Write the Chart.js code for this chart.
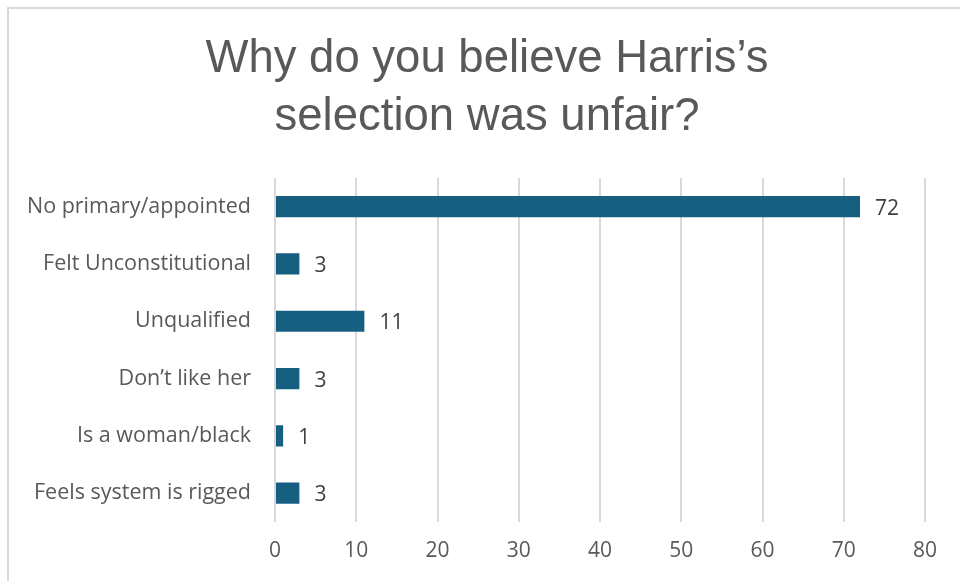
<!DOCTYPE html>
<html>
<head>
<meta charset="utf-8">
<script src="https://cdn.jsdelivr.net/npm/chart.js@4"></script>
<style>
  html, body { margin: 0; padding: 0; background: #fff; }
  #wrap { position: relative; width: 960px; height: 581px; overflow: hidden; }
  #frame { position: absolute; left: 7px; top: 7px; width: 1000px; height: 1000px;
           border-left: 2px solid #d9d9d9; border-top: 2px solid #d9d9d9; }
  canvas { position: absolute; left: 0; top: 0; }
</style>
</head>
<body>
<div id="wrap">
  <div id="frame"></div>
  <canvas id="reasonsChart" width="960" height="581"></canvas>
</div>
<script>
const categories = ['No primary/appointed', 'Felt Unconstitutional', 'Unqualified', 'Don\u2019t like her', 'Is a woman/black', 'Feels system is rigged'];
const counts = [72, 3, 11, 3, 1, 3];
const titleLines = ['Why do you believe Harris\u2019s', 'selection was unfair?'];

// draw the count just past the end of each bar
const valueLabels = {
    id: 'valueLabels',
    afterDatasetsDraw(chart) {
        const ctx = chart.ctx;
        const meta = chart.getDatasetMeta(0);
        ctx.save();
        ctx.font = '21px "Open Sans", sans-serif';
        ctx.fillStyle = '#404040';
        ctx.textAlign = 'left';
        ctx.textBaseline = 'middle';
        meta.data.forEach((bar, i) => {
            ctx.fillText(String(counts[i]), bar.x + 15, bar.y + 2);
        });
        ctx.restore();
    }
};

// title is centred a bit right of the canvas middle, so draw it by hand
const sideTitle = {
    id: 'sideTitle',
    afterDraw(chart) {
        const ctx = chart.ctx;
        ctx.save();
        ctx.font = '45.5px "Liberation Sans", Arial, sans-serif';
        ctx.fillStyle = '#595959';
        ctx.textAlign = 'center';
        ctx.textBaseline = 'middle';
        titleLines.forEach((line, i) => {
            ctx.fillText(line, 487, 59 + i * 58);
        });
        ctx.restore();
    }
};

const reasonsCtx = document.getElementById('reasonsChart').getContext('2d');
const reasonsChart = new Chart(reasonsCtx, {
    type: 'bar',
    data: {
        labels: categories,
        datasets: [{
            label: 'Responses',
            data: counts,
            backgroundColor: '#175f80',
            barPercentage: 0.37,
            categoryPercentage: 1.0
        }]
    },
    options: {
        indexAxis: 'y',
        responsive: false,
        animation: false,
        layout: { padding: { left: 14, right: 35, top: 178, bottom: 0 } },
        plugins: {
            legend: { display: false },
            tooltip: { enabled: false },
            title: { display: false }
        },
        scales: {
            x: {
                min: 0,
                max: 80,
                ticks: {
                    stepSize: 10,
                    color: '#595959',
                    padding: 17,
                    font: { family: '"Open Sans", sans-serif', size: 21 }
                },
                grid: { color: '#d9d9d9', lineWidth: 2, drawTicks: false },
                border: { display: false }
            },
            y: {
                ticks: {
                    color: '#595959',
                    padding: 24,
                    font: { family: '"Open Sans", sans-serif', size: 21.5 }
                },
                grid: { display: false, drawTicks: false },
                border: { display: false },
                afterFit(axis) { axis.width = 261; }
            }
        }
    },
    plugins: [valueLabels, sideTitle]
});
</script>
</body>
</html>
